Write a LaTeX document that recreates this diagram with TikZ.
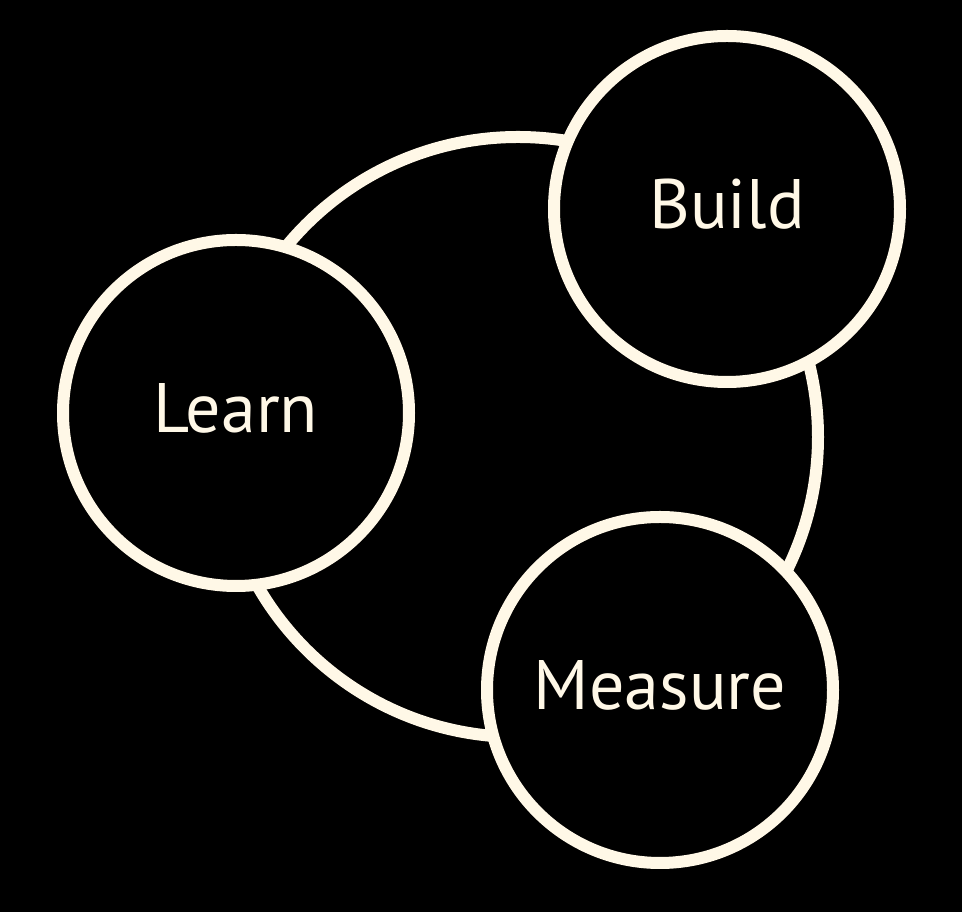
\documentclass[tikz,border=0pt]{standalone}
\usepackage{fontspec}
\setmainfont{PT Sans}
\definecolor{cream}{HTML}{FFF8E7}
\begin{document}
\begin{tikzpicture}[x=1pt,y=1pt,
  ring/.style={draw=cream,line width=12pt},
  stage/.style={circle,draw=cream,fill=black,line width=12pt,minimum size=346pt,inner sep=0pt,
    text=cream,font=\fontsize{70}{80}\selectfont,text height=50pt,text depth=10pt}]
  % canvas
  \fill[black] (0,0) rectangle (962,912);
  \useasboundingbox (0,0) rectangle (962,912);
  % cycle ring behind the stages
  \coordinate (hub) at (518,475);
  \draw[ring] (hub) circle[radius=300];
  % stages
  \node[stage] (build) at (727,703) {Build};
  \node[stage] (learn) at (236,499) {Learn};
  \node[stage] (measure) at (660,222) {Measure};
\end{tikzpicture}
\end{document}
